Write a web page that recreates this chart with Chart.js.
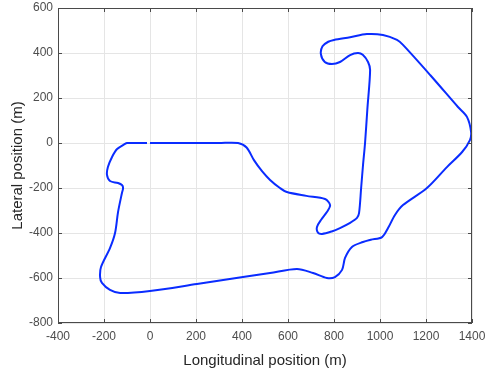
<!DOCTYPE html>
<html>
<head>
<meta charset="utf-8">
<script src="https://cdn.jsdelivr.net/npm/chart.js@4/dist/chart.umd.min.js"></script>
<style>
  html, body { margin: 0; padding: 0; background: #fff; }
  #wrap { width: 486px; height: 374px; position: relative; }
</style>
</head>
<body>
<div id="wrap"><canvas id="c"></canvas></div>
<script>
// Track centre line (metres)
const trackX = [
  0, 100, 200, 300, 383, 420, 452, 487, 522, 565, 595, 680, 761, 783, 769, 745, 726, 730, 748, 790,
  826, 870, 900, 909, 918, 926, 935, 945, 957, 948, 925, 904, 870, 826, 791, 760, 743, 750, 775, 800,
  870, 943, 1013, 1074, 1100, 1220, 1339, 1378, 1396, 1391, 1357, 1291, 1204, 1100, 1065, 1035, 1009, 960, 926, 878,
  848, 835, 804, 769, 709, 639, 522, 404, 204, 0, -130, -174, -209, -217, -213, -174, -152, -139, -122, -117,
  -122, -139, -174, -187, -183, -165, -143, -109, -100, -13,
];
const trackY = [
  0, 0, 0, 0, 0, -20, -76, -125, -164, -200, -218, -235, -249, -276, -307, -340, -373, -398, -404, -393,
  -378, -355, -333, -311, -200, -100, 0, 150, 324, 360, 392, 400, 391, 360, 351, 360, 395, 430, 450, 458,
  470, 484, 480, 458, 436, 300, 160, 116, 49, 13, -40, -107, -200, -276, -320, -378, -418, -430, -440, -462,
  -511, -564, -596, -600, -578, -560, -578, -596, -627, -658, -667, -653, -622, -596, -551, -467, -400, -307, -222, -200,
  -187, -178, -169, -142, -107, -62, -27, -4, 0, 0,
];

const xTicks = [-400, -200, 0, 200, 400, 600, 800, 1000, 1200, 1400];
const yTicks = [-800, -600, -400, -200, 0, 200, 400, 600];

const FONT = "'Liberation Sans', Arial, Helvetica, sans-serif";
const AXIS = '#262626';

// MATLAB-like box with inward ticks on all four sides
const boxPlugin = {
  id: 'box',
  afterDraw(chart) {
    const { ctx, chartArea: a, scales } = chart;
    ctx.save();
    ctx.strokeStyle = '#4a4a4a';
    ctx.lineWidth = 1;
    ctx.strokeRect(a.left + 0.5, a.top + 0.5, a.right - a.left - 1, a.bottom - a.top - 1);
    ctx.beginPath();
    const len = 4;
    for (const v of xTicks) {
      const px = Math.round(scales.x.getPixelForValue(v)) + 0.5;
      ctx.moveTo(px, a.bottom); ctx.lineTo(px, a.bottom - len);
      ctx.moveTo(px, a.top); ctx.lineTo(px, a.top + len);
    }
    for (const v of yTicks) {
      const py = Math.round(scales.y.getPixelForValue(v)) + 0.5;
      ctx.moveTo(a.left, py); ctx.lineTo(a.left + len, py);
      ctx.moveTo(a.right, py); ctx.lineTo(a.right - len, py);
    }
    ctx.stroke();
    ctx.restore();
  },
};

new Chart(document.getElementById('c'), {
  type: 'scatter',
  data: {
    datasets: [{
      data: trackX.map((x, i) => ({ x, y: trackY[i] })),
      showLine: true,
      borderColor: '#0a2cff',
      borderWidth: 2,
      pointRadius: 0,
      tension: 0.3,
      fill: false,
    }],
  },
  options: {
    responsive: true,
    maintainAspectRatio: false,
    animation: false,
    layout: { padding: { top: 8, right: 14, left: 0, bottom: 0 } },
    plugins: { legend: { display: false }, tooltip: { enabled: false } },
    scales: {
      x: {
        type: 'linear', min: -400, max: 1400,
        afterBuildTicks(s) { s.ticks = xTicks.map(v => ({ value: v })); },
        afterFit(s) { s.height = 51; s.paddingLeft = 0; s.paddingRight = 0; },
        grid: { color: '#e5e5e5', drawTicks: false },
        border: { display: false },
        ticks: { color: '#4d4d4d', font: { family: FONT, size: 12 }, padding: 6, maxRotation: 0, callback: v => String(v) },
        title: { display: true, text: 'Longitudinal position (m)', color: AXIS, font: { family: FONT, size: 15 }, padding: { top: 0, bottom: 4 } },
      },
      y: {
        type: 'linear', min: -800, max: 600,
        afterBuildTicks(s) { s.ticks = yTicks.map(v => ({ value: v })); },
        afterFit(s) { s.width = 58; s.paddingTop = 0; s.paddingBottom = 0; },
        grid: { color: '#e5e5e5', drawTicks: false },
        border: { display: false },
        ticks: { color: '#4d4d4d', font: { family: FONT, size: 12 }, padding: 5, callback: v => String(v) },
        title: { display: true, text: 'Lateral position (m)', color: AXIS, font: { family: FONT, size: 15 }, padding: { top: 9, bottom: 0 } },
      },
    },
  },
  plugins: [boxPlugin],
});
</script>
</body>
</html>
